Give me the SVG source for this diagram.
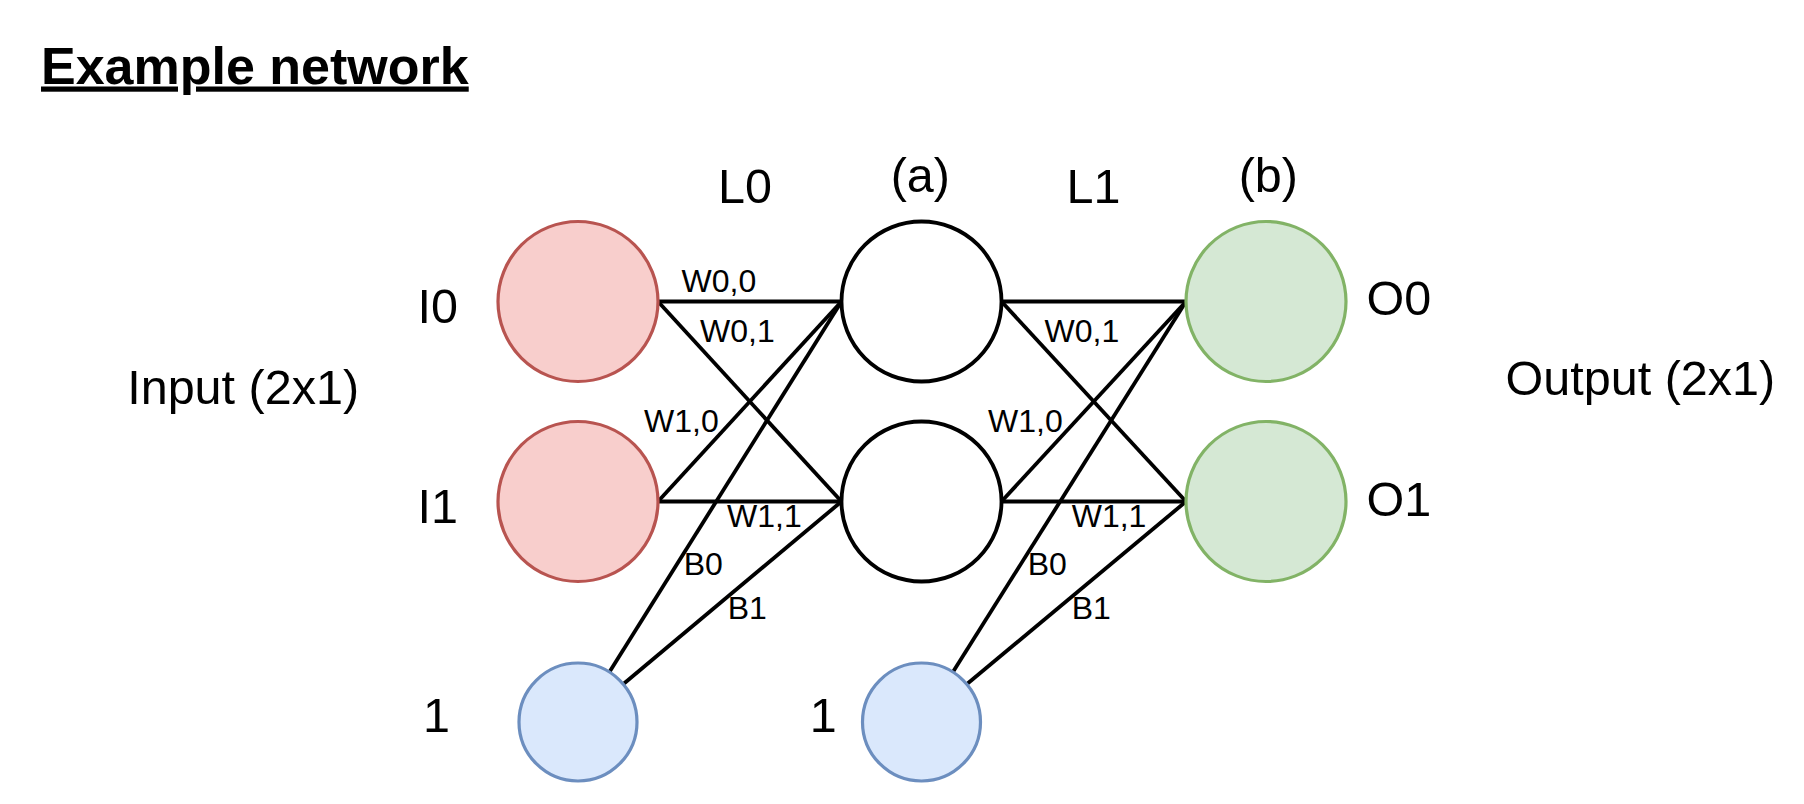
<svg xmlns="http://www.w3.org/2000/svg" width="1804" height="804" viewBox="0 0 1804 804">
  <style>
    text { font-family: "Liberation Sans", Arial, sans-serif; fill: #000; }
    .title { font-size: 52px; font-weight: bold; text-decoration: underline; }
    .big { font-size: 48.5px; }
    .w { font-size: 32px; }
    .edge { stroke: #000; stroke-width: 3.8; fill: none; }
    .in { fill: #f8cecc; stroke: #b85450; stroke-width: 3.2; }
    .hid { fill: #ffffff; stroke: #000; stroke-width: 3.8; }
    .out { fill: #d5e8d4; stroke: #82b366; stroke-width: 3.2; }
    .bias { fill: #dae8fc; stroke: #6c8ebf; stroke-width: 3.2; }
  </style>
  <rect width="1804" height="804" fill="#ffffff"/>

  <text class="title" x="41" y="83.5">Example network</text>

  <!-- connectors -->
  <g id="connectors">
    <!-- layer L0: inputs and bias into hidden -->
    <line class="edge" x1="658" y1="301.5" x2="841.5" y2="301.5"/>
    <line class="edge" x1="658" y1="301.5" x2="841.5" y2="501.5"/>
    <line class="edge" x1="658" y1="501.5" x2="841.5" y2="301.5"/>
    <line class="edge" x1="658" y1="501.5" x2="841.5" y2="501.5"/>
    <line class="edge" x1="609.9" y1="671.2" x2="841.5" y2="301.5"/>
    <line class="edge" x1="624" y1="683.5" x2="841.5" y2="501.5"/>
    <!-- layer L1: hidden and bias into outputs -->
    <line class="edge" x1="1001.5" y1="301.5" x2="1186" y2="301.5"/>
    <line class="edge" x1="1001.5" y1="301.5" x2="1186" y2="501.5"/>
    <line class="edge" x1="1001.5" y1="501.5" x2="1186" y2="301.5"/>
    <line class="edge" x1="1001.5" y1="501.5" x2="1186" y2="501.5"/>
    <line class="edge" x1="953.4" y1="671.2" x2="1186" y2="301.5"/>
    <line class="edge" x1="967.6" y1="683.5" x2="1186" y2="501.5"/>
  </g>

  <!-- edge labels -->
  <g id="edge-labels">
    <text class="w" x="681.5" y="291.7">W0,0</text>
    <text class="w" x="700" y="342">W0,1</text>
    <text class="w" x="644" y="431.7">W1,0</text>
    <text class="w" x="727" y="526.7">W1,1</text>
    <text class="w" x="683.7" y="575">B0</text>
    <text class="w" x="727.7" y="619">B1</text>

    <text class="w" x="1044.5" y="342">W0,1</text>
    <text class="w" x="988" y="431.7">W1,0</text>
    <text class="w" x="1071.7" y="526.7">W1,1</text>
    <text class="w" x="1027.7" y="575">B0</text>
    <text class="w" x="1071.7" y="619">B1</text>
  </g>

  <!-- nodes -->
  <g id="I0"><circle class="in" cx="578" cy="301.5" r="80"/><text class="big" x="417.5" y="323">I0</text></g>
  <g id="I1"><circle class="in" cx="578" cy="501.5" r="80"/><text class="big" x="417.5" y="523">I1</text></g>
  <g id="bias0"><circle class="bias" cx="578" cy="722" r="59"/><text class="big" x="423" y="731.7">1</text></g>

  <g id="H0"><circle class="hid" cx="921.5" cy="301.5" r="80"/></g>
  <g id="H1"><circle class="hid" cx="921.5" cy="501.5" r="80"/></g>
  <g id="bias1"><circle class="bias" cx="921.5" cy="722" r="59"/><text class="big" x="809.7" y="731.7">1</text></g>

  <g id="O0"><circle class="out" cx="1266" cy="301.5" r="80"/><text class="big" x="1366.6" y="314.5">O0</text></g>
  <g id="O1"><circle class="out" cx="1266" cy="501.5" r="80"/><text class="big" x="1366.6" y="516">O1</text></g>

  <!-- layer captions -->
  <g id="captions">
    <text class="big" x="127.2" y="404">Input (2x1)</text>
    <text class="big" x="1505.6" y="395">Output (2x1)</text>
    <text class="big" x="718" y="203">L0</text>
    <text class="big" x="1066.5" y="203">L1</text>
    <text class="big" x="890.7" y="192">(a)</text>
    <text class="big" x="1238.7" y="192">(b)</text>
  </g>
</svg>
